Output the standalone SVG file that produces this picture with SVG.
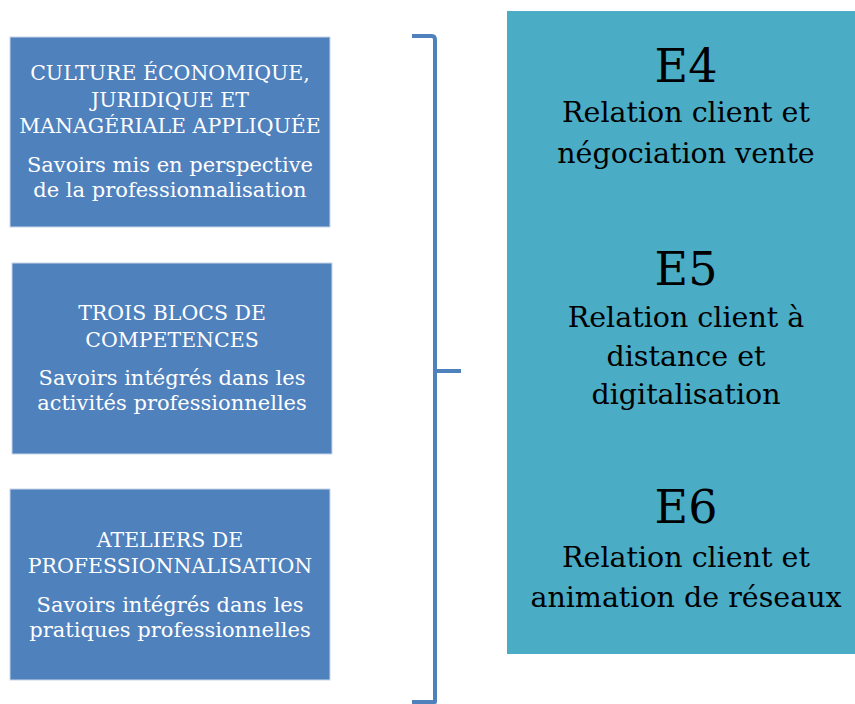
<svg xmlns="http://www.w3.org/2000/svg" width="855" height="704" viewBox="0 0 855 704">
<style>
.lbox{fill:#4F81BD;stroke:#c8d6ea;stroke-width:1}
.ltxt{font-family:"DejaVu Serif","Liberation Serif",serif;fill:#ffffff;text-anchor:middle;font-size:20.5px}
.lsub{font-size:21px}
.rtxt{font-family:"DejaVu Serif","Liberation Serif",serif;fill:#000000;text-anchor:middle;font-size:28.5px}
.rhead{font-size:46px}
.brace{fill:none;stroke:#4F81BD;stroke-width:4;stroke-linejoin:round}
</style>
<rect width="855" height="704" fill="#ffffff"/>
<g id="node-culture">
<rect class="lbox" x="10" y="37" width="320" height="190"/>
<text class="ltxt" x="170" y="80">CULTURE ÉCONOMIQUE,</text>
<text class="ltxt" x="170" y="107">JURIDIQUE ET</text>
<text class="ltxt" x="170" y="133">MANAGÉRIALE APPLIQUÉE</text>
<text class="ltxt lsub" x="170" y="172">Savoirs mis en perspective</text>
<text class="ltxt lsub" x="170" y="197">de la professionnalisation</text>
</g>
<g id="node-blocs">
<rect class="lbox" x="12" y="263" width="320" height="191"/>
<text class="ltxt" x="172" y="320">TROIS BLOCS DE</text>
<text class="ltxt" x="172" y="347">COMPETENCES</text>
<text class="ltxt lsub" x="172" y="385">Savoirs intégrés dans les</text>
<text class="ltxt lsub" x="172" y="410">activités professionnelles</text>
</g>
<g id="node-ateliers">
<rect class="lbox" x="10" y="489" width="320" height="191"/>
<text class="ltxt" x="170" y="547">ATELIERS DE</text>
<text class="ltxt" x="170" y="573">PROFESSIONNALISATION</text>
<text class="ltxt lsub" x="170" y="612">Savoirs intégrés dans les</text>
<text class="ltxt lsub" x="170" y="637">pratiques professionnelles</text>
</g>
<g id="connectors">
<path class="brace" d="M412 36 H432 Q435 36 435 40 V702 H412"/>
<path class="brace" d="M435 371 H461"/>
</g>
<g id="node-epreuves">
<rect x="507" y="11" width="348" height="643" fill="#4BACC6"/>
<text class="rtxt rhead" x="686" y="82">E4</text>
<text class="rtxt" x="686" y="122">Relation client et</text>
<text class="rtxt" x="686" y="163">négociation vente</text>
<text class="rtxt rhead" x="686" y="285">E5</text>
<text class="rtxt" x="686" y="327">Relation client à</text>
<text class="rtxt" x="686" y="366">distance et</text>
<text class="rtxt" x="686" y="404">digitalisation</text>
<text class="rtxt rhead" x="686" y="523">E6</text>
<text class="rtxt" x="686" y="567">Relation client et</text>
<text class="rtxt" x="686" y="607">animation de réseaux</text>
</g>
</svg>
